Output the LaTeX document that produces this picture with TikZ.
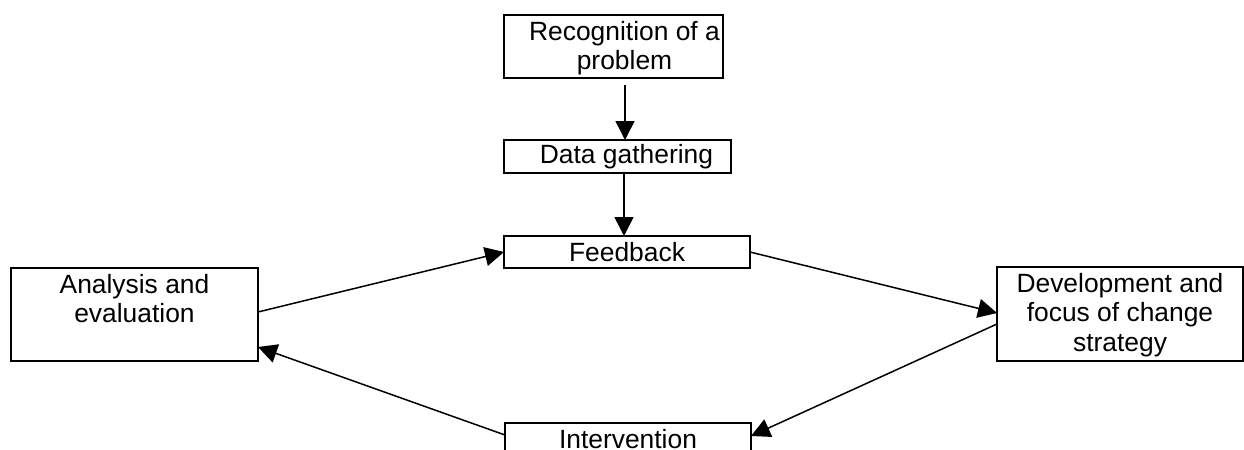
\documentclass[tikz,border=0pt]{standalone}
\usepackage{fontspec}
\setmainfont{Liberation Sans}
\usetikzlibrary{shapes,arrows.meta,positioning}
\tikzstyle{block} = [rectangle, draw=black, line width=1pt, inner sep=0pt, outer sep=0pt, text centered]
\tikzstyle{arrow} = [->, >={Triangle[length=9.5pt,width=9.5pt]}, line width=0.75pt]
\newcommand{\toptext}[4][0pt]{\hspace*{#1}\parbox[c][#3][t]{\dimexpr#2-#1\relax}{\centering\rule{0pt}{12.5pt}#4}}

\begin{document}
\begin{tikzpicture}[font=\fontsize{13.2}{14.75}\selectfont]
  \clip (0,0) rectangle (622pt,-225pt);
  \node[block, anchor=north west] (rec) at (252pt,-7.5pt) {\toptext[11pt]{109.5pt}{31.5pt}{Recognition of a\\problem}};
  \node[block, minimum width=113.5pt, minimum height=16.5pt, below=31pt of rec.south west, anchor=north west] (data) {\hspace*{9pt}Data gathering};
  \node[block, minimum width=123pt, minimum height=16pt, below=31.5pt of data.south west, anchor=north west] (feed) {Feedback};
  \node[block, left=123pt of feed.south west, anchor=north east] (ana) {\toptext{123.5pt}{46.5pt}{Analysis and\\evaluation}};
  \node[block, right=123.5pt of feed.south east, anchor=north west, yshift=0.5pt] (dev) {\toptext{123pt}{47pt}{Development and\\focus of change\\strategy}};
  \node[block, minimum width=123pt, minimum height=16.5pt, below=77.5pt of feed.south west, anchor=north west, xshift=0.5pt] (int) {Intervention};
  % arrows
  \draw[arrow] ([xshift=5.75pt,yshift=-3.5pt]rec.south) -- ([xshift=3.75pt]data.north);
  \draw[arrow] ([xshift=3.25pt]data.south) -- ([xshift=-1.5pt]feed.north);
  \draw[arrow] ([yshift=1.25pt]ana.east) -- (feed.west);
  \draw[arrow] (feed.east) -- ([yshift=0.5pt]dev.west);
  \draw[arrow] ([yshift=-5pt]dev.west) -- ([yshift=1.75pt]int.east);
  \draw[arrow] ([yshift=2.25pt]int.west) -- ([yshift=7pt]ana.south east);
\end{tikzpicture}
\end{document}
